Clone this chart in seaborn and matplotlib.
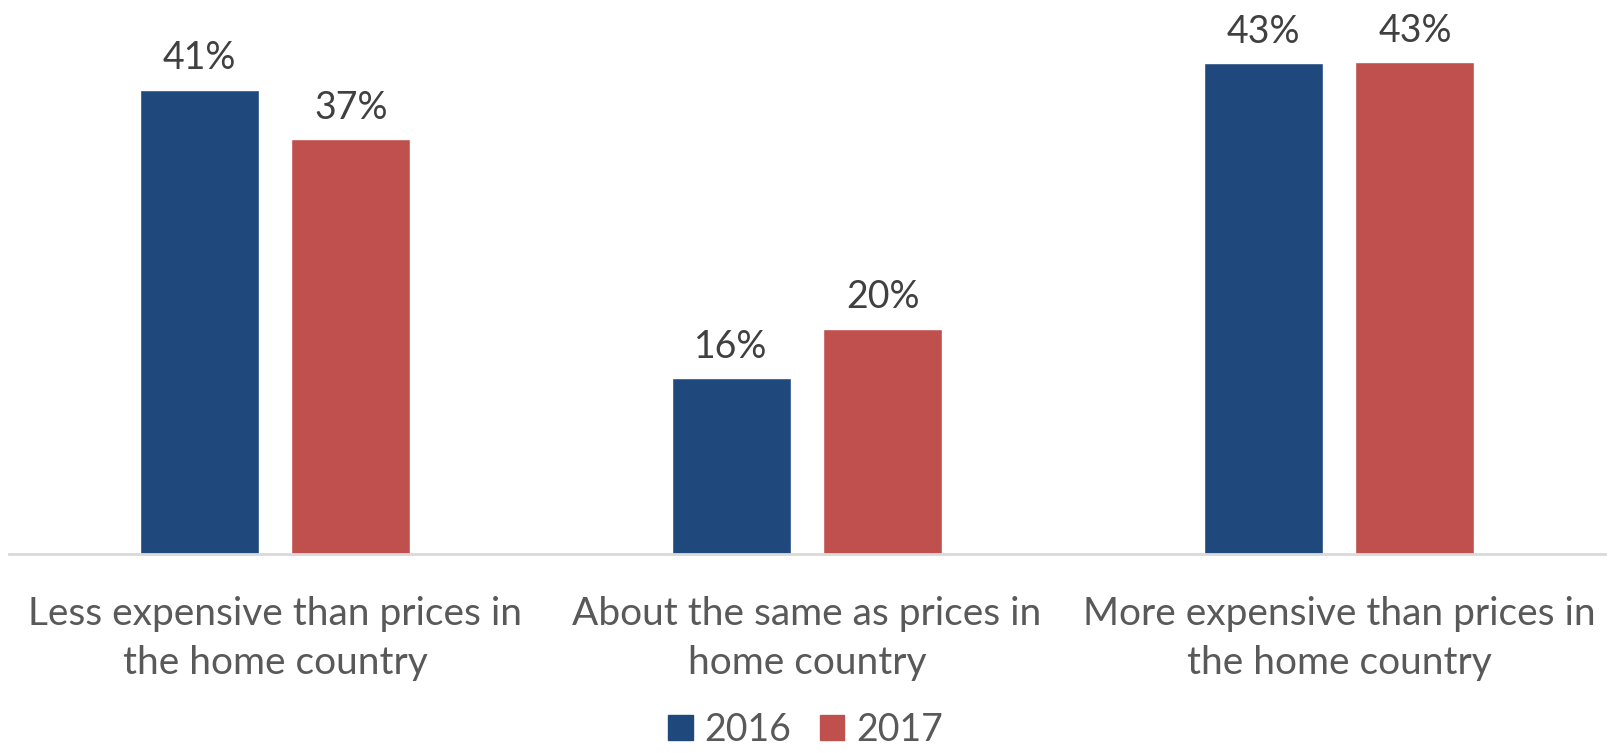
import matplotlib.pyplot as plt
import seaborn as sns
import pandas as pd
from matplotlib.patches import Patch

categories = ['Less expensive than prices in\nthe home country',
              'About the same as prices in\nhome country',
              'More expensive than prices in\nthe home country']
years = ['2016', '2017']
values_2016 = [41.0, 15.5, 43.3]
values_2017 = [36.6, 19.9, 43.4]
colors = ['#1F497D', '#C0504D']

df = pd.DataFrame({
    'category': categories * 2,
    'year': [years[0]] * 3 + [years[1]] * 3,
    'value': values_2016 + values_2017,
})

sns.set_style('white')
plt.rcParams['font.family'] = ['Lato', 'DejaVu Sans']

fig = plt.figure(figsize=(16.11, 7.53), dpi=100)
ax = fig.add_axes([9 / 1611, (753 - 554) / 753, 1596 / 1611, 554 / 753])

sns.barplot(data=df, x='category', y='value', hue='year', palette=colors,
            width=0.571, gap=0.216, ax=ax, legend=False, saturation=1)

for c in ax.containers:
    ax.bar_label(c, labels=[f'{v:.0f}%' for v in c.datavalues], padding=9.5,
                 fontsize=27, color='#404040')

ax.set_xlim(-0.5, 2.5)
ax.set_ylim(0, 48.9)
ax.set_xlabel('')
ax.set_ylabel('')
ax.set_yticks([])
for s in ['top', 'right', 'left']:
    ax.spines[s].set_visible(False)
ax.spines['bottom'].set_color('#D9D9D9')
ax.spines['bottom'].set_linewidth(2)
ax.tick_params(axis='x', length=0, pad=30, labelsize=28, labelcolor='#595959')
for t in ax.get_xticklabels():
    t.set_linespacing(1.47)

handles = [Patch(color=colors[i], label=years[i]) for i in range(2)]
fig.legend(handles=handles, loc='lower center', bbox_to_anchor=(0.5, -0.038), ncol=2,
           frameon=False, fontsize=27, labelcolor='#595959', handlelength=0.65,
           handleheight=0.65, handletextpad=0.32, columnspacing=0.75)

fig.savefig('out.png', dpi=100)
